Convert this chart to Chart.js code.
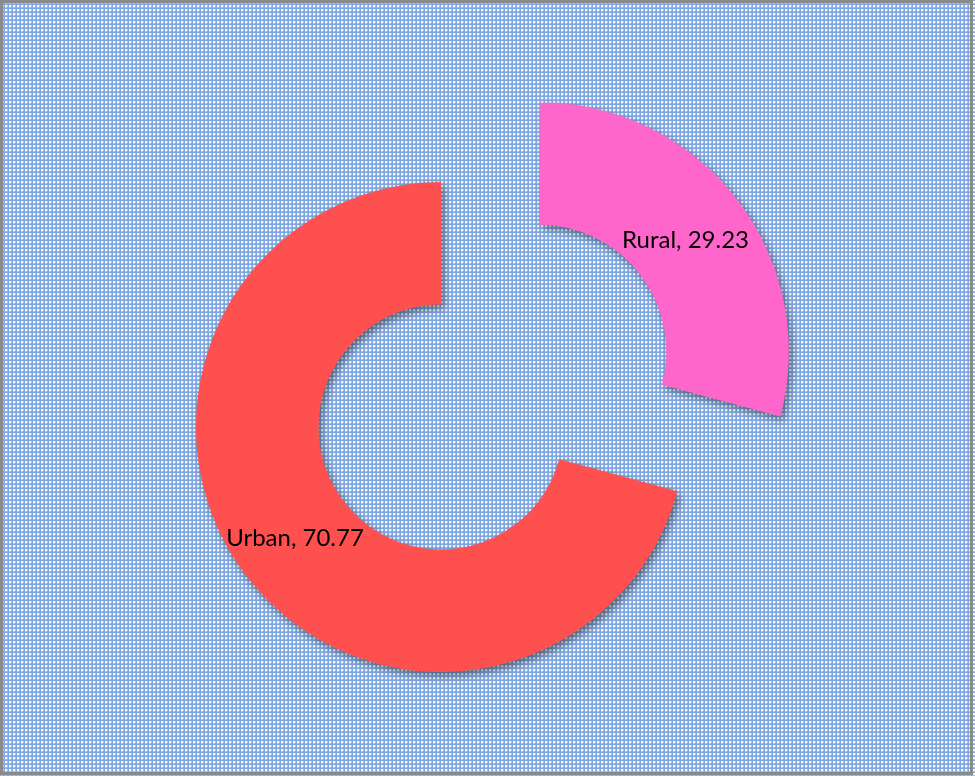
<!DOCTYPE html>
<html>
<head>
<meta charset="utf-8">
<script src="https://cdn.jsdelivr.net/npm/chart.js@4/dist/chart.umd.min.js"></script>
<style>
  html, body { margin: 0; padding: 0; background: #ffffff; }
  #wrap { position: relative; width: 975px; height: 776px; }
</style>
</head>
<body>
<div id="wrap"><canvas id="c" width="975" height="776"></canvas></div>
<script>
const categories = ["Rural", "Urban"];
const values = [29.23, 70.77];
const sliceColors = ["#FF66CC", "#FF5050"];
const explodeDistance = [124, 0];

function makePattern(ctx) {
  const t = document.createElement('canvas');
  t.width = 4; t.height = 4;
  const c = t.getContext('2d');
  c.fillStyle = '#80A8E0';
  c.fillRect(0, 0, 4, 4);
  c.fillStyle = '#A9C4EE';
  c.fillRect(3, 1, 1, 2);
  c.fillRect(1, 3, 2, 1);
  c.fillStyle = '#F6F9FE';
  c.fillRect(1, 1, 2, 2);
  return ctx.createPattern(t, 'repeat');
}

const bgPlugin = {
  id: 'bg',
  beforeDraw(chart) {
    const ctx = chart.ctx;
    ctx.save();
    ctx.fillStyle = makePattern(ctx);
    ctx.fillRect(0, 0, chart.width, chart.height);
    ctx.strokeStyle = '#8A8A8A';
    ctx.lineWidth = 3;
    ctx.strokeRect(1.5, 1.5, 970, 772);
    ctx.restore();
  }
};

const shadowPlugin = {
  id: 'shadow',
  beforeDatasetDraw(chart) {
    const ctx = chart.ctx;
    ctx.save();
    ctx.shadowColor = 'rgba(0,0,0,0.45)';
    ctx.shadowBlur = 8;
    ctx.shadowOffsetX = 3;
    ctx.shadowOffsetY = 4;
  },
  afterDatasetDraw(chart) {
    chart.ctx.restore();
  }
};

const labelPlugin = {
  id: 'sliceLabels',
  afterDatasetsDraw(chart) {
    const ctx = chart.ctx;
    const meta = chart.getDatasetMeta(0);
    ctx.save();
    ctx.font = '24px Lato, "Open Sans", sans-serif';
    ctx.fillStyle = '#000000';
    ctx.textAlign = 'center';
    ctx.textBaseline = 'middle';
    meta.data.forEach((el, i) => {
      const mid = (el.startAngle + el.endAngle) / 2;
      const r = (el.innerRadius + el.outerRadius) / 2 + explodeDistance[i];
      ctx.fillText(categories[i] + ', ' + values[i].toFixed(2),
        el.x + Math.cos(mid) * r, el.y + Math.sin(mid) * r);
    });
    ctx.restore();
  }
};

new Chart(document.getElementById('c'), {
  type: 'doughnut',
  data: {
    labels: categories,
    datasets: [{
      data: values,
      backgroundColor: sliceColors,
      borderWidth: 0,
      // Chart.js arcs translate by offset/4
      offset: explodeDistance.map(d => d * 4),
      hoverOffset: 0
    }]
  },
  options: {
    responsive: false,
    animation: false,
    radius: 245,
    cutout: '50%',
    rotation: 0,
    layout: { padding: { left: 0, right: 93, top: 78, bottom: 0 } },
    plugins: {
      legend: { display: false },
      tooltip: { enabled: false },
      title: { display: false }
    },
    events: []
  },
  plugins: [bgPlugin, shadowPlugin, labelPlugin]
});
</script>
</body>
</html>
